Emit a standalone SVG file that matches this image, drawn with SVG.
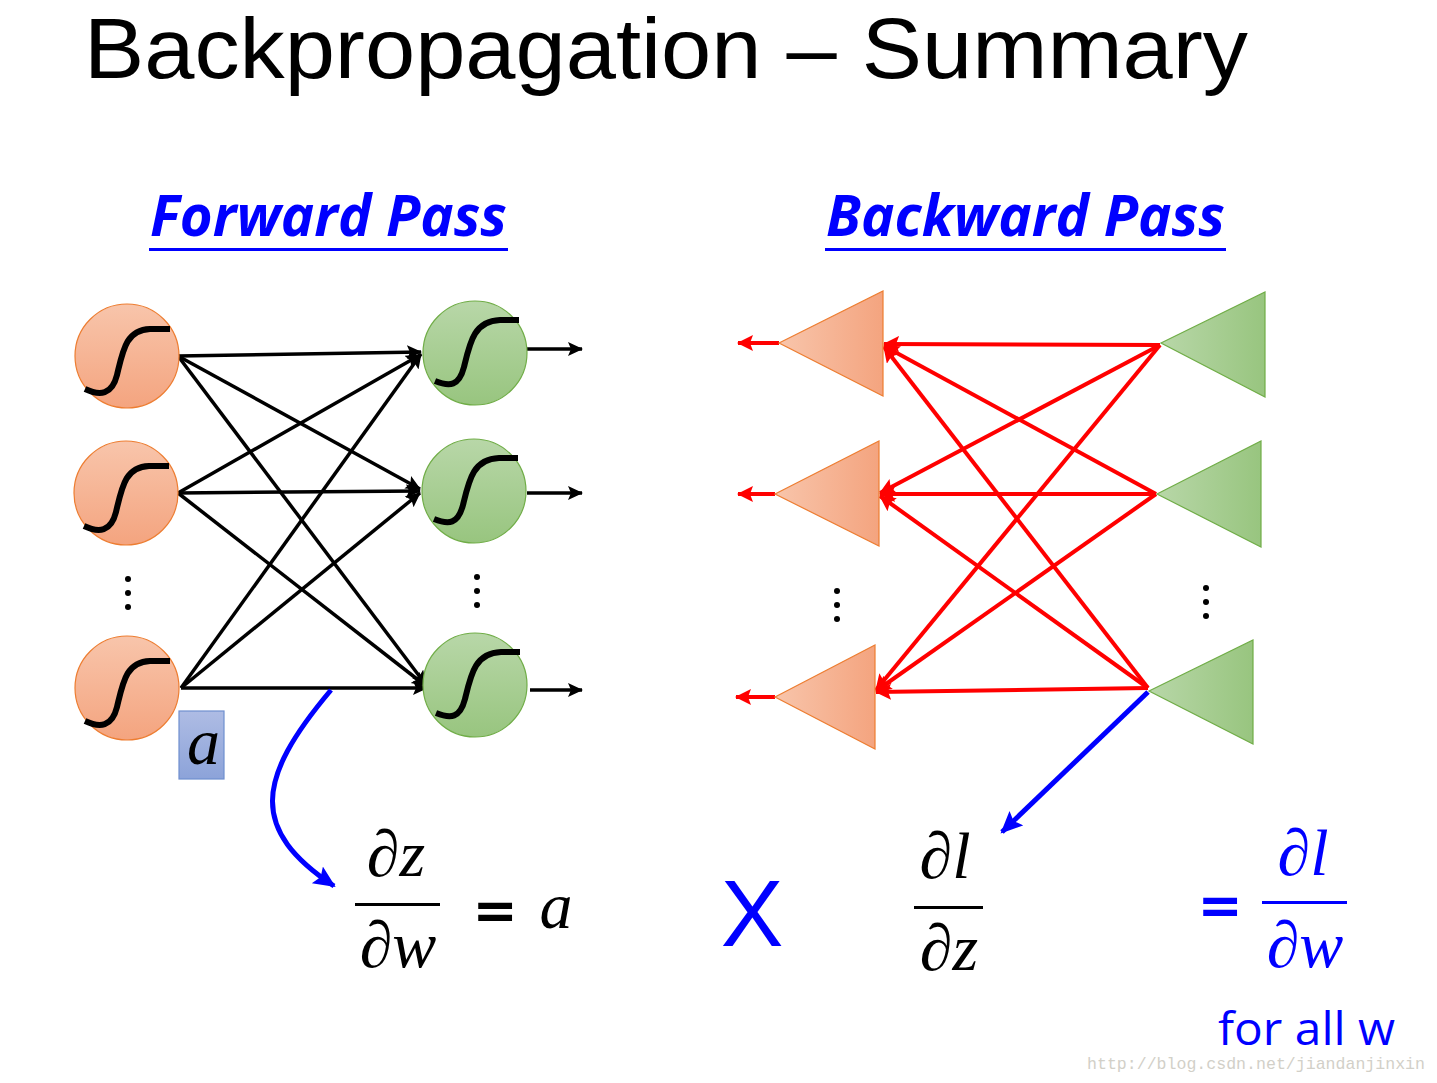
<svg xmlns="http://www.w3.org/2000/svg" width="1437" height="1083" viewBox="0 0 1437 1083">
<defs>
<linearGradient id="gOrV" x1="0" y1="0" x2="0" y2="1"><stop offset="0" stop-color="#F8C5AB"/><stop offset="1" stop-color="#F4A47F"/></linearGradient>
<linearGradient id="gGrV" x1="0" y1="0" x2="0" y2="1"><stop offset="0" stop-color="#B8D7A8"/><stop offset="1" stop-color="#98C57F"/></linearGradient>
<linearGradient id="gOrH" x1="0" y1="0" x2="1" y2="0"><stop offset="0" stop-color="#F8C5AB"/><stop offset="1" stop-color="#F4A47F"/></linearGradient>
<linearGradient id="gGrH" x1="0" y1="0" x2="1" y2="0"><stop offset="0" stop-color="#B8D7A8"/><stop offset="1" stop-color="#98C57F"/></linearGradient>
<linearGradient id="gBl" x1="0" y1="0" x2="0" y2="1"><stop offset="0" stop-color="#AEBCE4"/><stop offset="1" stop-color="#8CA3D9"/></linearGradient>
<marker id="aK" markerUnits="userSpaceOnUse" markerWidth="20" markerHeight="20" refX="14" refY="7" orient="auto"><path d="M0,0 L15,7 L0,14 L3,7 Z" fill="#000"/></marker>
<marker id="aR" markerUnits="userSpaceOnUse" markerWidth="20" markerHeight="20" refX="15" refY="8" orient="auto"><path d="M0,0 L16,8 L0,16 L3,8 Z" fill="#F00"/></marker>
<marker id="aB" markerUnits="userSpaceOnUse" markerWidth="26" markerHeight="26" refX="20" refY="10" orient="auto"><path d="M0,0 L22,10 L0,20 L4,10 Z" fill="#00F"/></marker>
</defs>
<style>
.oc{fill:url(#gOrV);stroke:#ED7D31;stroke-width:1.2}
.gc{fill:url(#gGrV);stroke:#70AD47;stroke-width:1.2}
.ot{fill:url(#gOrH);stroke:#ED7D31;stroke-width:1.2}
.gt{fill:url(#gGrH);stroke:#70AD47;stroke-width:1.2}
.sig{fill:none;stroke:#000;stroke-width:6}
.bk{stroke:#000;stroke-width:3.5;fill:none;marker-end:url(#aK)}
.rd{stroke:#F00;stroke-width:4;fill:none;marker-end:url(#aR)}
.bl{stroke:#00F;stroke-width:5;fill:none;marker-end:url(#aB)}
.dot{fill:#000}
.m{font-family:"Liberation Serif","DejaVu Serif",serif;font-style:italic;font-size:66px}
.eq{font-family:"DejaVu Sans",sans-serif;font-weight:bold;font-size:54px}
.hd{font-family:"Open Sans","Liberation Sans",sans-serif;font-weight:bold;font-style:italic;font-size:57px;fill:#00F}
</style>
<rect width="1437" height="1083" fill="#fff"/>
<text x="84" y="78" font-family="'Liberation Sans',sans-serif" font-size="86" fill="#000" textLength="1164" lengthAdjust="spacingAndGlyphs">Backpropagation – Summary</text>
<g id="heading-forward"><text class="hd" x="150" y="236" textLength="357" lengthAdjust="spacingAndGlyphs">Forward Pass</text><rect x="149" y="248" width="359" height="3" fill="#00F"/></g>
<g id="heading-backward"><text class="hd" x="826" y="236" textLength="399" lengthAdjust="spacingAndGlyphs">Backward Pass</text><rect x="825" y="248" width="401" height="3" fill="#00F"/></g>

<g id="connectors">
<path class="bk" d="M178,356 L421,352"/>
<path class="bk" d="M178,356 L420,489"/>
<path class="bk" d="M178,356 L426,685"/>
<path class="bk" d="M178,493 L420,355"/>
<path class="bk" d="M178,493 L420,491"/>
<path class="bk" d="M178,493 L426,686"/>
<path class="bk" d="M181,688 L421,354"/>
<path class="bk" d="M181,688 L420,493"/>
<path class="bk" d="M181,688 L427,688"/>
<path class="bk" d="M527,349 L582,349"/>
<path class="bk" d="M527,493 L582,493"/>
<path class="bk" d="M530,690 L582,690"/>
<path class="rd" d="M1160,345 L884,344"/>
<path class="rd" d="M1160,345 L880,493"/>
<path class="rd" d="M1160,345 L876,690"/>
<path class="rd" d="M1156,494 L884,346"/>
<path class="rd" d="M1156,494 L880,494"/>
<path class="rd" d="M1156,494 L876,691"/>
<path class="rd" d="M1148,688 L884,347"/>
<path class="rd" d="M1148,688 L880,496"/>
<path class="rd" d="M1148,688 L876,692"/>
<path class="rd" d="M779,343 L738,343"/>
<path class="rd" d="M775,494 L738,494"/>
<path class="rd" d="M775,697 L736,697"/>
<path class="bl" d="M331,690 C 255,780 250,830 334,886"/>
<path class="bl" d="M1148,692 L1002,832"/>
</g>

<g id="in1"><circle class="oc" cx="127" cy="356" r="52"/><path class="sig" d="M85,389 C100,396 112,395 117,375 C123,350 126,330 150,329 L170,329"/></g>
<g id="in2"><circle class="oc" cx="126" cy="493" r="52"/><path class="sig" d="M84,526 C99,533 111,532 116,512 C122,487 125,467 149,466 L169,466"/></g>
<g id="in3"><circle class="oc" cx="127" cy="688" r="52"/><path class="sig" d="M85,721 C100,728 112,727 117,707 C123,682 126,662 150,661 L170,661"/></g>
<g id="out1"><circle class="gc" cx="475" cy="353" r="52"/><path class="sig" d="M435,381 C450,387 459,386 464,367 C470,342 474,321 500,320 L519,320"/></g>
<g id="out2"><circle class="gc" cx="474" cy="491" r="52"/><path class="sig" d="M434,519 C449,525 458,524 463,505 C469,480 473,459 499,458 L518,458"/></g>
<g id="out3"><circle class="gc" cx="475" cy="685" r="52"/><path class="sig" d="M436,713 C451,719 460,718 465,699 C471,674 475,653 501,652 L520,652"/></g>
<g id="dots-in"><circle class="dot" cx="128" cy="579" r="3"/><circle class="dot" cx="128" cy="593" r="3"/><circle class="dot" cx="128" cy="607" r="3"/></g>
<g id="dots-out"><circle class="dot" cx="477" cy="577" r="3"/><circle class="dot" cx="477" cy="591" r="3"/><circle class="dot" cx="477" cy="605" r="3"/></g>
<g id="a-box"><rect x="179" y="711" width="45" height="68" fill="url(#gBl)" stroke="#6F8FCF" stroke-width="1.2"/><text class="m" x="187" y="764" font-size="52">a</text></g>

<g id="bin1"><polygon class="ot" points="779,343 883,291 883,396"/></g>
<g id="bin2"><polygon class="ot" points="775,494 879,441 879,546"/></g>
<g id="bin3"><polygon class="ot" points="775,697 875,645 875,749"/></g>
<g id="bout1"><polygon class="gt" points="1161,343 1265,292 1265,397"/></g>
<g id="bout2"><polygon class="gt" points="1157,494 1261,441 1261,547"/></g>
<g id="bout3"><polygon class="gt" points="1149,691 1253,640 1253,744"/></g>
<g id="dots-bin"><circle class="dot" cx="837" cy="591" r="3"/><circle class="dot" cx="837" cy="605" r="3"/><circle class="dot" cx="837" cy="619" r="3"/></g>
<g id="dots-bout"><circle class="dot" cx="1206" cy="588" r="3"/><circle class="dot" cx="1206" cy="602" r="3"/><circle class="dot" cx="1206" cy="616" r="3"/></g>

<g id="formula-left">
<text class="m" x="396" y="876" text-anchor="middle">∂z</text>
<rect x="355" y="903" width="85" height="3" fill="#000"/>
<text class="m" x="398" y="967" text-anchor="middle">∂w</text>
<text class="eq" x="495" y="929" text-anchor="middle">=</text>
<text class="m" x="556" y="928" text-anchor="middle">a</text>
</g>
<g id="times"><text x="752" y="946" font-family="'Liberation Sans',sans-serif" font-size="94" fill="#00F" text-anchor="middle">X</text></g>
<g id="formula-mid">
<text class="m" x="945" y="878" text-anchor="middle">∂l</text>
<rect x="914" y="906" width="69" height="3" fill="#000"/>
<text class="m" x="949" y="970" text-anchor="middle">∂z</text>
</g>
<g id="formula-right" fill="#00F">
<text class="eq" x="1220" y="924" text-anchor="middle">=</text>
<text class="m" x="1303" y="875" text-anchor="middle">∂l</text>
<rect x="1262" y="901" width="85" height="3"/>
<text class="m" x="1305" y="967" text-anchor="middle">∂w</text>
</g>
<text x="1218" y="1045" font-family="'Open Sans','Liberation Sans',sans-serif" font-size="46" fill="#00F" textLength="177" lengthAdjust="spacingAndGlyphs">for all w</text>
<text x="1087" y="1069" font-family="'Liberation Mono','DejaVu Sans Mono',monospace" font-size="17" fill="#D2D0C8" textLength="338" lengthAdjust="spacingAndGlyphs">http://blog.csdn.net/jiandanjinxin</text>
</svg>
